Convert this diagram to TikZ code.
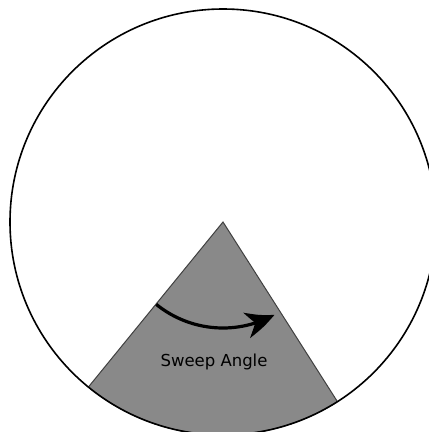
\documentclass[tikz,border=0pt]{standalone}
\usepackage{fontspec}
\newfontfamily\sweepfont{DejaVu Sans}
\usetikzlibrary{arrows.meta,bending}
\definecolor{wedgegray}{RGB}{137,137,137}

\begin{document}
\begin{tikzpicture}[
  x=1pt, y=1pt,
  rim/.style={draw=black, line width=1.6pt},
  wedge/.style={fill=wedgegray, draw=black!75, line width=1pt},
  sweep/.style={-{Stealth[length=30pt, width=26pt, inset=9pt, bend]},
                line width=3.2pt, draw=black},
  lbl/.style={font=\sweepfont\fontsize{16.5}{18}\selectfont, text=black, anchor=base},
]
% ---- page frame ----
\useasboundingbox (-223,-210) rectangle (206,222);
\clip (-223,-210) rectangle (206,222);
\coordinate (centre) at (0,0);

% ---- sector of the sweep ----
\path[wedge] (centre) -- (230.8:213pt) arc[start angle=230.8, end angle=302.5, radius=213pt] -- cycle;

% ---- outer circle ----
\draw[rim] (centre) circle[radius=213pt];

% ---- sweep arrow and its label ----
\draw[sweep] (231:106pt) arc[start angle=231, end angle=299, radius=106pt];
\node[lbl] (sweeplbl) at (-9,-144) {Sweep Angle};

\end{tikzpicture}
\end{document}
